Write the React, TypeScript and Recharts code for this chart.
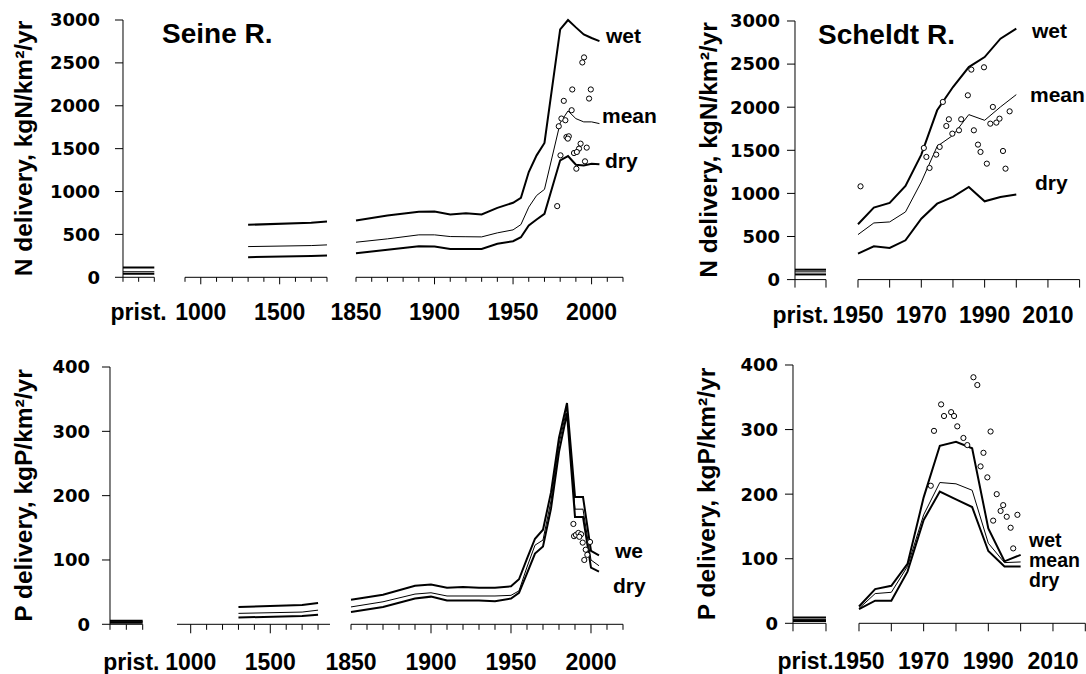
import { ComposedChart, Line, Scatter, XAxis, YAxis } from "recharts"

const ARIAL = "'Liberation Sans', Arial, sans-serif"
const DEJAVU = "'DejaVu Sans', sans-serif"

// ---------- Seine, N delivery (kgN/km2/yr)
const seineNPrist = [115, 65, 40] // wet, mean, dry
const seineEarlyYears = [1300, 1700, 1800]
const seineNEarlyWet = [612, 635, 650]
const seineNEarlyMean = [358, 370, 378]
const seineNEarlyDry = [234, 248, 253]
const seineNYears = [1850, 1870, 1890, 1900, 1910, 1920, 1930, 1940, 1950, 1955, 1960, 1965, 1970, 1980, 1985, 1990, 1995, 2000, 2005]
const seineNWet = [662, 720, 765, 767, 732, 748, 732, 810, 869, 927, 1227, 1422, 1566, 2891, 3000, 2914, 2832, 2790, 2754]
const seineNMean = [409, 448, 495, 495, 475, 473, 471, 518, 553, 615, 818, 954, 1025, 1800, 1940, 1850, 1812, 1812, 1792]
const seineNDry = [280, 320, 362, 358, 331, 331, 331, 390, 421, 467, 604, 674, 740, 1364, 1414, 1313, 1305, 1325, 1317]
const seineNObsYears = [1995.2, 1994.1, 1987.7, 1999.5, 1998.4, 1982.3, 1987.3, 1980.8, 1983.3, 1979.1, 1984.0, 1985.5, 1984.9, 1993.0, 1992.0, 1988.8, 1990.6, 1996.9, 1980.2, 1995.8, 1990.3, 1978.1]
const seineNObs = [2564, 2505, 2190, 2190, 2084, 2057, 1948, 1851, 1831, 1761, 1636, 1644, 1617, 1558, 1500, 1449, 1461, 1512, 1422, 1352, 1266, 830]

// ---------- Seine, P delivery (kgP/km2/yr)
const seinePPrist = [5.5, 4, 2.5]
const seinePEarlyWet = [27, 30, 33]
const seinePEarlyMean = [17, 19, 22]
const seinePEarlyDry = [10.5, 13, 15]
const seinePYears = [1850, 1870, 1890, 1900, 1910, 1920, 1930, 1940, 1950, 1955, 1960, 1965, 1970, 1975, 1980, 1985, 1990, 1995, 2000, 2005]
const seinePWet = [38, 46, 60, 62, 57, 58, 57, 57, 59, 70, 102, 133, 147, 205, 290, 344, 198, 198, 114, 107]
const seinePMean = [27, 35, 47, 49, 44, 44, 44, 44, 45, 52, 89, 123, 131, 192, 280, 336, 179, 179, 100, 91]
const seinePDry = [19, 27, 40, 43, 37, 37, 37, 36, 40, 49, 79, 110, 121, 180, 268, 328, 167, 167, 88, 82]
const seinePObsYears = [1989.0, 1989.4, 1990.6, 1992.1, 1993.8, 1992.7, 1994.8, 1996.7, 1999.4, 1997.7, 1995.8]
const seinePObs = [156, 137, 139, 142, 140, 136, 127, 116, 128, 108, 100]

// ---------- Scheldt, N delivery
const scheldtNPrist = [115, 90, 60]
const scheldtYears = [1950, 1955, 1960, 1965, 1970, 1975, 1980, 1985, 1990, 1995, 2000]
const scheldtNWet = [642, 835, 889, 1086, 1450, 1964, 2234, 2466, 2582, 2795, 2911]
const scheldtNMean = [522, 657, 669, 785, 1133, 1546, 1674, 1914, 1848, 2003, 2146]
const scheldtNDry = [302, 387, 367, 456, 707, 881, 959, 1075, 908, 959, 986]
const scheldtNObsYears = [1950.8, 1970.8, 1971.6, 1972.6, 1974.7, 1975.8, 1976.8, 1977.9, 1978.7, 1979.8, 1981.9, 1982.6, 1984.7, 1985.8, 1986.6, 1987.9, 1988.7, 1989.8, 1990.7, 1991.8, 1992.6, 1993.7, 1994.7, 1995.8, 1996.6, 1997.9]
const scheldtNObs = [1082, 1527, 1423, 1295, 1450, 1539, 2061, 1782, 1860, 1693, 1732, 1860, 2138, 2436, 1732, 1566, 1481, 2463, 1345, 1809, 2003, 1821, 1867, 1492, 1287, 1952]

// ---------- Scheldt, P delivery
const scheldtPPrist = [9, 6, 3.5]
const scheldtPWet = [26, 53, 58, 92, 195, 275, 281, 271, 147, 96, 106]
const scheldtPMean = [23, 46, 48, 88, 168, 218, 216, 206, 124, 94, 95]
const scheldtPDry = [22, 35, 35, 80, 160, 204, 192, 180, 112, 88, 88]
const scheldtPObsYears = [1972.2, 1973.2, 1975.4, 1976.3, 1978.5, 1979.4, 1980.4, 1982.3, 1983.5, 1985.4, 1986.6, 1987.6, 1988.5, 1989.7, 1990.7, 1991.5, 1992.6, 1993.8, 1994.6, 1995.7, 1996.9, 1997.7, 1999.0]
const scheldtPObs = [213, 298, 339, 321, 327, 321, 305, 287, 276, 381, 369, 243, 264, 226, 297, 159, 200, 174, 183, 165, 148, 116, 168]

// ---------- ticks
const nTicks = [0, 500, 1000, 1500, 2000, 2500, 3000]
const pTicks = [0, 100, 200, 300, 400]
const seinePristTicks = [0, 1, 2]
const scheldtPristTicks = [0, 0.5, 1]
const seineEarlyTicks = [900, 1000, 1100, 1200, 1300, 1400, 1500, 1600, 1700, 1800]
const seineEarlyTicksP = [1000, 1100, 1200, 1300, 1400, 1500, 1600, 1700, 1800]
const seineModernTicks = [1850, 1860, 1870, 1880, 1890, 1900, 1910, 1920, 1930, 1940, 1950, 1960, 1970, 1980, 1990, 2000, 2010, 2020]
const scheldtTicks = [1950, 1960, 1970, 1980, 1990, 2000, 2010, 2020]
const seineMajor = [1000, 1500, 1900, 1950, 2000]
const seinePristLabels: Record<number, string> = { 1: "prist." }
const scheldtPristLabels: Record<number, string> = { 0.5: "prist." }
const seineEarlyLabels: Record<number, string> = { 1000: "1000", 1500: "1500" }
const seineModernLabels: Record<number, string> = { 1850: "1850", 1900: "1900", 1950: "1950", 2000: "2000" }
const scheldtLabels: Record<number, string> = { 1950: "1950", 1970: "1970", 1990: "1990", 2010: "2010" }

type P = { x: number; y: number }
const zip = (xs: number[], ys: number[]): P[] => xs.map((x, i) => ({ x, y: ys[i] }))
const trio = (xs: number[], w: number[], m: number[], d: number[]) => [
  { data: zip(xs, w), w: 2 },
  { data: zip(xs, m), w: 1 },
  { data: zip(xs, d), w: 2 },
]
const prist = (end: number, v: number[]) => trio([0, end], [v[0], v[0]], [v[1], v[1]], [v[2], v[2]])

type SegProps = {
  left: number; right: number; top: number; bottom: number
  domain: [number, number]
  ticks: number[]
  major?: number[]
  labels?: Record<number, string>
  labelDx?: number
  skip?: number[]
  minor: number
  majorLen: number
  labelDy: number
  yMax: number
  yTicks: number[]
  yAxis?: { width: number; margin: number }
  lines: { data: P[]; w: number }[]
  obs?: P[]
}

function Segment(s: SegProps) {
  const ML = s.yAxis ? s.yAxis.width : 6
  const MR = 6, MT = 8, XH = 60
  const w = s.right - s.left + ML + MR
  const h = s.bottom - s.top + MT + XH
  const renderTick = (props: any) => {
    const { x, y, payload } = props
    const v = payload.value
    const len = s.major && s.major.includes(v) ? s.majorLen : s.minor
    const label = s.labels ? s.labels[v] : undefined
    return (
      <g>
        {!(s.skip && s.skip.includes(v)) && <line x1={x} x2={x} y1={y} y2={y + len} stroke="#000" strokeWidth={1} />}
        {label && (
          <text x={x + (s.labelDx || 0)} y={y + s.labelDy} textAnchor="middle" fill="#000"
            style={{ fontFamily: ARIAL, fontWeight: 700, fontSize: 23 }}>{label}</text>
        )}
      </g>
    )
  }
  return (
    <div style={{ position: "absolute", left: s.left - ML, top: s.top - MT }}>
      <ComposedChart width={w} height={h} margin={{ top: MT, right: MR, bottom: 0, left: s.yAxis ? 0 : ML }}>
        <XAxis type="number" dataKey="x" domain={s.domain} ticks={s.ticks} interval={0} height={XH}
          tickSize={0} tickMargin={0} tickLine={false} axisLine={{ stroke: "#000", strokeWidth: 1 }} tick={renderTick} />
        <YAxis type="number" dataKey="y" domain={[0, s.yMax]} ticks={s.yTicks} interval={0} hide={!s.yAxis}
          width={s.yAxis ? s.yAxis.width : 0} tickSize={8} tickMargin={s.yAxis ? s.yAxis.margin : 0}
          axisLine={{ stroke: "#000", strokeWidth: 1 }} tickLine={{ stroke: "#000", strokeWidth: 1 }}
          tick={{ fill: "#000", fontSize: 18, fontWeight: 700, fontFamily: DEJAVU }} />
        {s.lines.map((l, i) => (
          <Line key={i} data={l.data} dataKey="y" type="linear" stroke="#000" strokeWidth={l.w}
            dot={false} activeDot={false} isAnimationActive={false} />
        ))}
        {s.obs && (
          <Scatter data={s.obs} dataKey="y" isAnimationActive={false}
            shape={(p: any) => <circle cx={p.cx} cy={p.cy} r={2.6} fill="#fff" stroke="#000" strokeWidth={1} />} />
        )}
      </ComposedChart>
    </div>
  )
}

function Overlay() {
  const t = { fontFamily: ARIAL, fontWeight: 700 }
  const lab = { ...t, fontSize: 21 }
  const labS = { ...t, fontSize: 19.5 }
  return (
    <svg width={1086} height={674} style={{ position: "absolute", left: 0, top: 0, pointerEvents: "none" }}>
      <text x={162} y={43} fill="#000" style={{ ...t, fontSize: 28 }}>Seine R.</text>
      <text x={818} y={44} fill="#000" style={{ ...t, fontSize: 28 }}>Scheldt R.</text>
      <text transform="translate(32,148.5) rotate(-90)" textAnchor="middle" fill="#000" style={{ ...t, fontSize: 24.5 }}>N delivery, kgN/km²/yr</text>
      <text transform="translate(32,495.5) rotate(-90)" textAnchor="middle" fill="#000" style={{ ...t, fontSize: 24.5 }}>P delivery, kgP/km²/yr</text>
      <text transform="translate(716.5,150) rotate(-90)" textAnchor="middle" fill="#000" style={{ ...t, fontSize: 24.5 }}>N delivery, kgN/km²/yr</text>
      <text transform="translate(715,494) rotate(-90)" textAnchor="middle" fill="#000" style={{ ...t, fontSize: 24.5 }}>P delivery, kgP/km²/yr</text>
      <text x={606} y={43} fill="#000" style={lab}>wet</text>
      <text x={602} y={123} fill="#000" style={lab}>mean</text>
      <text x={605} y={168} fill="#000" style={lab}>dry</text>
      <text x={1032} y={38} fill="#000" style={lab}>wet</text>
      <text x={1030} y={102} fill="#000" style={lab}>mean</text>
      <text x={1035} y={190} fill="#000" style={lab}>dry</text>
      <text x={615} y={558} fill="#000" style={lab}>we</text>
      <text x={613} y={593} fill="#000" style={lab}>dry</text>
      <text x={1029} y={547} fill="#000" style={labS}>wet</text>
      <text x={1029} y={567} fill="#000" style={labS}>mean</text>
      <text x={1029} y={587} fill="#000" style={labS}>dry</text>
    </svg>
  )
}

export default function App() {
  return (
    <div style={{ position: "absolute", left: 0, top: 0, width: 1086, height: 674, overflow: "hidden", background: "#fff" }}>
      <style>{".recharts-surface { overflow: visible; }"}</style>
      {/* Seine N */}
      <Segment left={123} right={154.3} top={20} bottom={277.3} domain={[0, 2]} ticks={seinePristTicks}
        labels={seinePristLabels} minor={4.5} majorLen={7} labelDy={43} yMax={3000} yTicks={nTicks}
        yAxis={{ width: 100, margin: 15 }} lines={prist(2, seineNPrist)} />
      <Segment left={185} right={327} top={20} bottom={277.3} domain={[900, 1800]} ticks={seineEarlyTicks}
        major={seineMajor} labels={seineEarlyLabels} minor={4.5} majorLen={7} labelDy={43} yMax={3000} yTicks={nTicks}
        lines={trio(seineEarlyYears, seineNEarlyWet, seineNEarlyMean, seineNEarlyDry)} />
      <Segment left={356} right={623} top={20} bottom={277.3} domain={[1850, 2020]} ticks={seineModernTicks}
        major={seineMajor} labels={seineModernLabels} minor={4.5} majorLen={7} labelDy={43} yMax={3000} yTicks={nTicks}
        lines={trio(seineNYears, seineNWet, seineNMean, seineNDry)} obs={zip(seineNObsYears, seineNObs)} />

      {/* Seine P */}
      <Segment left={110} right={142.7} top={367} bottom={624.3} domain={[0, 2]} ticks={seinePristTicks}
        labels={seinePristLabels} labelDx={5} minor={5.5} majorLen={9} labelDy={45.5} yMax={400} yTicks={pTicks}
        yAxis={{ width: 100, margin: 12 }} lines={prist(2, seinePPrist)} />
      <Segment left={177} right={330} top={367} bottom={624.3} domain={[914, 1875]} ticks={seineEarlyTicksP}
        major={seineMajor} labels={seineEarlyLabels} minor={5.5} majorLen={9} labelDy={45.5} yMax={400} yTicks={pTicks}
        lines={trio(seineEarlyYears, seinePEarlyWet, seinePEarlyMean, seinePEarlyDry)} />
      <Segment left={351.3} right={623.3} top={367} bottom={624.3} domain={[1850, 2020]} ticks={seineModernTicks}
        major={seineMajor} labels={seineModernLabels} minor={5.5} majorLen={9} labelDy={45.5} yMax={400} yTicks={pTicks}
        lines={trio(seinePYears, seinePWet, seinePMean, seinePDry)} obs={zip(seinePObsYears, seinePObs)} />

      {/* Scheldt N */}
      <Segment left={795} right={826} top={20.7} bottom={279.3} domain={[0, 1]} ticks={scheldtPristTicks}
        labels={scheldtPristLabels} labelDx={-10} skip={[0.5]} minor={8} majorLen={8} labelDy={43} yMax={3000} yTicks={nTicks}
        yAxis={{ width: 100, margin: 7 }} lines={prist(1, scheldtNPrist)} />
      <Segment left={857.7} right={1079.3} top={20.7} bottom={279.3} domain={[1950, 2020]} ticks={scheldtTicks}
        labels={scheldtLabels} minor={8} majorLen={8} labelDy={43} yMax={3000} yTicks={nTicks}
        lines={trio(scheldtYears, scheldtNWet, scheldtNMean, scheldtNDry)} obs={zip(scheldtNObsYears, scheldtNObs)} />

      {/* Scheldt P */}
      <Segment left={792.7} right={825.7} top={365} bottom={623.3} domain={[0, 1]} ticks={scheldtPristTicks}
        labels={scheldtPristLabels} labelDx={-4} skip={[0.5]} minor={8} majorLen={8} labelDy={45.5} yMax={400} yTicks={pTicks}
        yAxis={{ width: 100, margin: 7 }} lines={prist(1, scheldtPPrist)} />
      <Segment left={859} right={1085.3} top={365} bottom={623.3} domain={[1950, 2020]} ticks={scheldtTicks}
        labels={scheldtLabels} minor={8} majorLen={8} labelDy={45.5} yMax={400} yTicks={pTicks}
        lines={trio(scheldtYears, scheldtPWet, scheldtPMean, scheldtPDry)} obs={zip(scheldtPObsYears, scheldtPObs)} />

      <Overlay />
    </div>
  )
}
